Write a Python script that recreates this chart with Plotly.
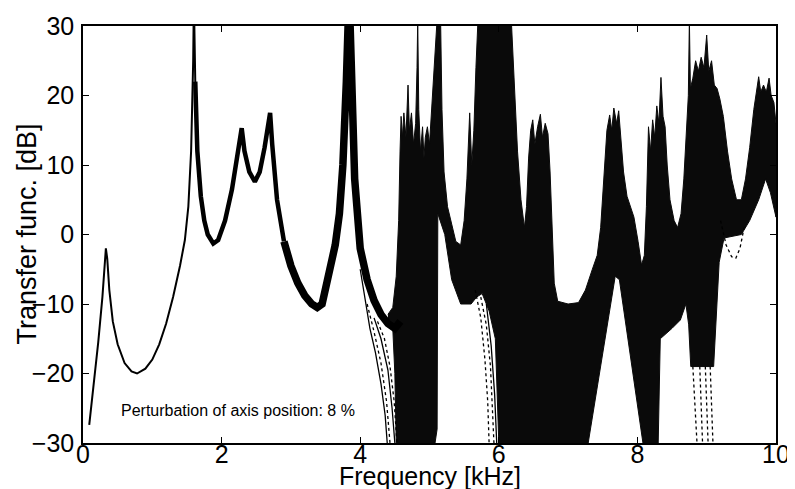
import numpy as np
import plotly.graph_objects as go

# nominal transfer function (0 - 4.6 kHz)
NOM_F = [0.09, 0.15, 0.22, 0.28, 0.31, 0.33, 0.35, 0.38, 0.43, 0.50, 0.60, 0.70, 0.78, 0.90,
         1.00, 1.10, 1.20, 1.30, 1.40, 1.47, 1.52, 1.56, 1.59, 1.60, 1.62, 1.65, 1.70, 1.75,
         1.80, 1.88, 1.95, 2.05, 2.15, 2.22, 2.27, 2.29, 2.33, 2.40, 2.48, 2.55, 2.62, 2.68,
         2.70, 2.73, 2.80, 2.90, 3.00, 3.10, 3.20, 3.30, 3.38, 3.45, 3.55, 3.64, 3.70, 3.75,
         3.80, 3.84, 3.87, 3.92, 4.00, 4.10, 4.20, 4.30, 4.40, 4.50, 4.58]
NOM_DB = [-27.4, -22.0, -15.5, -9.0, -4.5, -2.0, -3.5, -8.0, -12.5, -15.8, -18.5, -19.7, -20.0, -19.3,
          -18.0, -15.8, -12.8, -9.0, -4.5, -0.8, 4.0, 12.0, 25.0, 34.0, 22.0, 12.0, 5.5, 2.0,
          0.0, -1.3, -0.8, 2.0, 6.5, 11.0, 15.0, 15.3, 12.0, 9.0, 7.6, 9.0, 12.5, 17.0,
          17.5, 13.0, 5.0, -1.0, -4.5, -7.0, -8.8, -10.0, -10.5, -10.0, -6.0, -1.5, 3.0, 10.0,
          22.0, 35.0, 25.0, 8.0, -2.0, -6.5, -9.5, -11.5, -12.8, -13.5, -12.5]

# upper / lower envelope of the perturbed curves above 4.4 kHz
HF_UP_F = [4.40, 4.47, 4.52, 4.555, 4.575, 4.59, 4.61, 4.63, 4.66, 4.69, 4.71, 4.74, 4.77, 4.80,
           4.82, 4.83, 4.845, 4.87, 4.90, 4.92, 4.94, 4.97, 5.00, 5.04, 5.08, 5.11, 5.16, 5.18,
           5.21, 5.26, 5.32, 5.38, 5.45, 5.50, 5.54, 5.58, 5.61, 5.64, 5.67, 5.70, 6.18, 6.22, 6.27,
           6.32, 6.37, 6.40, 6.43, 6.46, 6.49, 6.52, 6.56, 6.60, 6.63, 6.67, 6.71, 6.74, 6.77,
           6.80, 6.85, 7.00, 7.15, 7.25, 7.35, 7.42, 7.47, 7.52, 7.56, 7.60, 7.63, 7.66, 7.70,
           7.73, 7.76, 7.80, 7.85, 7.90, 7.95, 8.01, 8.06, 8.10, 8.13, 8.16, 8.19, 8.22, 8.25,
           8.28, 8.31, 8.34, 8.37, 8.40, 8.43, 8.47, 8.53, 8.58, 8.63, 8.67, 8.71, 8.735, 8.75,
           8.765, 8.80, 8.84, 8.88, 8.92, 8.96, 9.00, 9.03, 9.07, 9.11, 9.15, 9.19, 9.24, 9.30,
           9.36, 9.43, 9.50, 9.56, 9.62, 9.68, 9.72, 9.75, 9.78, 9.82, 9.86, 9.90, 9.93, 9.97, 10.0]
HF_UP_DB = [-11.5, -10.5, -6.0, 2.0, 12.0, 17.0, 14.0, 17.5, 14.0, 21.5, 15.0, 17.5, 13.0, 16.0,
            24.0, 31.0, 18.0, 12.0, 15.5, 11.0, 14.0, 15.5, 13.0, 19.0, 26.0, 31.0, 31.0, 18.0,
            9.0, 4.0, 1.5, -1.0, -1.5, 2.0, 8.0, 17.5, 10.0, 15.0, 24.0, 31.0, 31.0, 22.0, 12.0,
            5.0, 1.0, 4.0, 11.0, 15.0, 16.5, 13.0, 15.5, 17.3, 14.0, 16.0, 14.5, 9.0, 0.0,
            -7.0, -9.6, -10.0, -9.8, -8.0, -5.0, -3.0, 1.0, 8.0, 15.0, 17.2, 15.0, 18.2, 16.0,
            17.8, 14.0, 9.0, 5.5, 4.0, 2.5, -1.0, -4.4, -3.0, 4.0, 15.5, 12.0, 16.5, 14.0,
            18.5, 16.0, 22.6, 17.0, 15.5, 10.0, 5.0, 2.0, 1.0, 3.0, 8.0, 15.0, 20.0, 31.0,
            21.0, 22.5, 25.0, 23.5, 25.5, 24.0, 28.7, 23.5, 25.0, 21.5, 21.0, 19.5, 17.0, 12.0,
            8.0, 5.0, 5.0, 8.0, 12.5, 18.0, 20.5, 22.7, 20.5, 21.5, 20.5, 22.5, 20.0, 19.0, 16.0]
HF_LO_F = [4.40, 4.47, 4.50, 4.52, 5.08, 5.11, 5.12, 5.22, 5.25, 5.32, 5.45, 5.60, 5.68, 5.76,
           5.86, 5.95, 6.00, 7.29, 7.68, 7.74, 8.08, 8.30, 8.33, 8.50, 8.62, 8.70, 8.74, 8.77,
           9.10, 9.14, 9.18, 9.25, 9.50, 9.62, 9.75, 9.85, 9.92, 10.0]
HF_LO_DB = [-12.8, -13.5, -20.0, -30.0, -30.0, -28.0, 3.0, 0.0, -2.0, -6.5, -10.0, -10.0, -9.0, -8.5,
            -11.0, -15.0, -30.0, -30.0, -6.0, -6.5, -30.0, -30.0, -15.0, -13.5, -12.3, -10.0, -13.0, -19.0,
            -19.0, -12.0, -4.0, -0.5, 0.0, 2.0, 5.0, 8.0, 6.0, 2.5]

# single curves that leave the bundle
DIVE_A_F = [4.00, 4.08, 4.14, 4.22, 4.30, 4.36, 4.39]
DIVE_A_DB = [-5.0, -10.0, -13.5, -17.0, -21.5, -26.0, -30.0]
DIVE_B_F = [4.10, 4.20, 4.30, 4.38, 4.43]
DIVE_B_DB = [-10.0, -14.0, -18.5, -24.0, -30.0]
DIVE_C_F = [4.20, 4.30, 4.40, 4.46, 4.50]
DIVE_C_DB = [-12.0, -15.0, -19.5, -25.0, -30.0]
DIVE_D_F = [4.25, 4.35, 4.43, 4.49, 4.53]
DIVE_D_DB = [-12.5, -15.0, -19.0, -24.0, -30.0]
MID_E_F = [5.66, 5.74, 5.80, 5.84, 5.86]
MID_E_DB = [-8.0, -12.0, -18.0, -24.0, -30.0]
MID_F_F = [5.74, 5.82, 5.88, 5.91, 5.93]
MID_F_DB = [-9.0, -13.0, -19.0, -25.0, -30.0]
MID_G_F = [5.82, 5.89, 5.94, 5.97]
MID_G_DB = [-10.0, -16.0, -23.0, -30.0]
HI_H_F = [8.80, 8.83, 8.86]
HI_H_DB = [-19.0, -25.0, -30.0]
HI_I_F = [8.90, 8.92, 8.94]
HI_I_DB = [-19.0, -25.0, -30.0]
HI_J_F = [8.98, 9.00, 9.02]
HI_J_DB = [-19.0, -25.0, -30.0]
HI_K_F = [9.05, 9.07, 9.09]
HI_K_DB = [-19.0, -25.0, -30.0]
DIP_F = [9.20, 9.28, 9.36, 9.42, 9.48, 9.54]
DIP_DB = [2.0, -1.5, -3.2, -3.4, -2.0, 1.0]

NOTE = 'Perturbation of axis position: 8 %'
FONT = 'Liberation Sans, Arial, Helvetica, sans-serif'

fig = go.Figure()

# envelope of the perturbed curves
poly_f = HF_UP_F + HF_LO_F[::-1]
poly_db = HF_UP_DB + HF_LO_DB[::-1]
fig.add_trace(go.Scatter(x=poly_f, y=poly_db, mode='lines', fill='toself', fillcolor='#0a0a0a',
                         line=dict(color='#0a0a0a', width=1), hoverinfo='skip'))

# nominal curve, getting thicker as the curves spread
nf = np.array(NOM_F)
nd = np.array(NOM_DB)
for lo, hi, w in [(0.0, 1.65, 2), (1.62, 2.95, 4.5), (2.90, 5.0, 7.5)]:
    m = (nf >= lo) & (nf <= hi)
    fig.add_trace(go.Scatter(x=nf[m], y=nd[m], mode='lines', line=dict(color='black', width=w),
                             hoverinfo='skip'))

for xs, ys, dash in [(DIVE_A_F, DIVE_A_DB, 'solid'), (DIVE_B_F, DIVE_B_DB, 'dot'),
                     (DIVE_C_F, DIVE_C_DB, 'solid'), (DIVE_D_F, DIVE_D_DB, 'dot'),
                     (MID_E_F, MID_E_DB, 'dot'), (MID_F_F, MID_F_DB, 'dot'), (MID_G_F, MID_G_DB, 'solid'),
                     (HI_H_F, HI_H_DB, 'dot'), (HI_I_F, HI_I_DB, 'dot'), (HI_J_F, HI_J_DB, 'dot'),
                     (HI_K_F, HI_K_DB, 'dot'), (DIP_F, DIP_DB, 'dot')]:
    fig.add_trace(go.Scatter(x=xs, y=ys, mode='lines', line=dict(color='black', width=1.3, dash=dash),
                             hoverinfo='skip'))

fig.add_annotation(x=0.52, y=-25.3, xref='x', yref='y', text=NOTE, showarrow=False,
                   xanchor='left', yanchor='middle', font=dict(size=16, color='black', family=FONT))

# axis titles placed by hand so the plot area keeps the reference size
fig.add_annotation(x=0.5, y=0, xref='paper', yref='paper', text='Frequency [kHz]', showarrow=False,
                   xanchor='center', yanchor='middle', yshift=-33,
                   font=dict(size=25, color='black', family=FONT))
fig.add_annotation(x=0, y=0.5, xref='paper', yref='paper', text='Transfer func. [dB]', showarrow=False,
                   textangle=-90, xanchor='center', yanchor='middle', xshift=-57,
                   font=dict(size=27, color='black', family=FONT))

axis_common = dict(showgrid=False, zeroline=False, showline=True, linecolor='black', linewidth=1.5,
                   mirror='ticks', ticks='inside', ticklen=6, tickwidth=1.3, tickcolor='black',
                   automargin=False, tickfont=dict(size=25, color='black', family=FONT))
fig.update_xaxes(range=[0, 10], tickvals=[0, 2, 4, 6, 8, 10], ticklabelstandoff=-12, **axis_common)
fig.update_yaxes(range=[-30, 30], tickvals=[-30, -20, -10, 0, 10, 20, 30], ticklabelstandoff=2,
                 **axis_common)

# the page adds an 8 px body margin, so the figure is 8 px smaller and the margins shifted
fig.update_layout(width=787, height=481, margin=dict(l=75, r=19, t=18, b=46),
                  paper_bgcolor='white', plot_bgcolor='white', showlegend=False,
                  font=dict(family=FONT, color='black'))

fig.write_html("out.html")
